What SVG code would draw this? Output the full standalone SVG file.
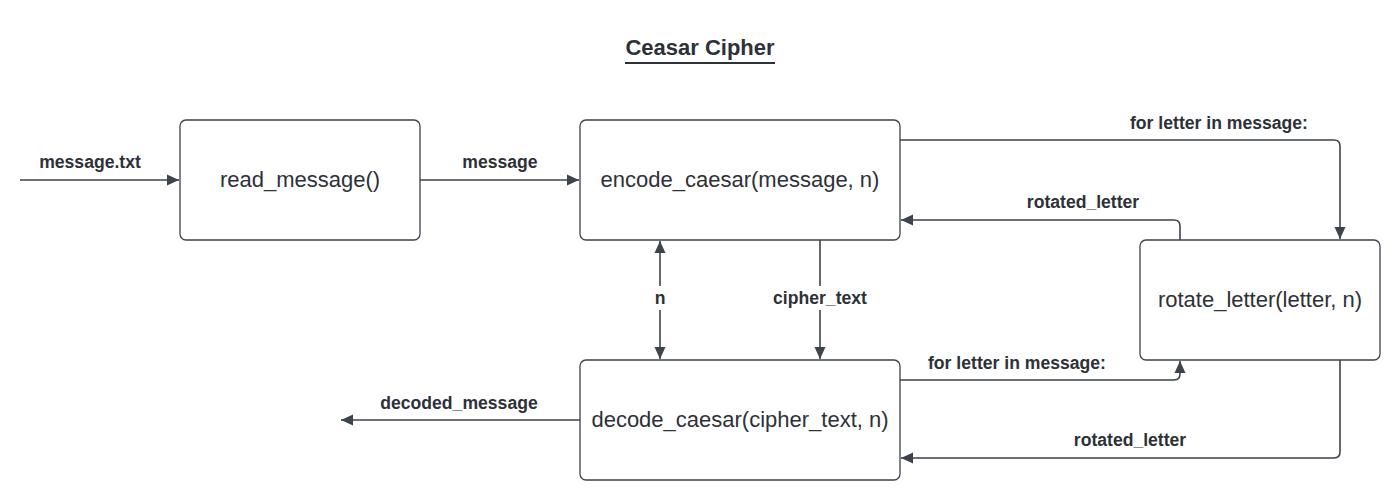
<svg xmlns="http://www.w3.org/2000/svg" width="1400" height="500" viewBox="0 0 1400 500">
<defs>
<style>
.box{fill:#ffffff;stroke:#3d434c;stroke-width:1.3}
.nt{font-family:"Liberation Sans",Arial,sans-serif;font-size:22px;fill:#2d3138;text-anchor:middle}
.lb{font-family:"Liberation Sans",Arial,sans-serif;font-size:17.6px;font-weight:bold;fill:#2d3138;text-anchor:middle}
.ln{fill:none;stroke:#3d434c;stroke-width:1.6}
</style>
<marker id="ah" viewBox="0 0 12 12" refX="12" refY="6" markerWidth="12" markerHeight="12" markerUnits="userSpaceOnUse" orient="auto-start-reverse">
<path d="M0,0.5 L12,6 L0,11.5 Z" fill="#3d434c"/>
</marker>
</defs>
<rect width="1400" height="500" fill="#ffffff"/>
<g id="title">
<text x="700" y="55" font-family="'Liberation Sans',Arial,sans-serif" font-size="22" font-weight="bold" fill="#2d3138" text-anchor="middle">Ceasar Cipher</text>
<line x1="625" y1="63" x2="775" y2="63" stroke="#2d3138" stroke-width="2"/>
</g>
<g id="connectors">
<line class="ln" x1="20" y1="180" x2="179" y2="180" marker-end="url(#ah)"/>
<text class="lb" x="90" y="168">message.txt</text>
<line class="ln" x1="420" y1="180" x2="579" y2="180" marker-end="url(#ah)"/>
<text class="lb" x="500" y="168">message</text>
<path class="ln" d="M900,140 H1334 Q1340,140 1340,146 V239" marker-end="url(#ah)"/>
<text class="lb" x="1219" y="129">for letter in message:</text>
<path class="ln" d="M1180,240 V226 Q1180,220 1174,220 H901" marker-end="url(#ah)"/>
<text class="lb" x="1083" y="208">rotated_letter</text>
<line class="ln" x1="660" y1="241" x2="660" y2="359" marker-start="url(#ah)" marker-end="url(#ah)"/>
<rect x="648" y="286" width="24" height="24" fill="#ffffff"/>
<text class="lb" x="660" y="304">n</text>
<line class="ln" x1="820" y1="240" x2="820" y2="359" marker-end="url(#ah)"/>
<rect x="766" y="286" width="108" height="24" fill="#ffffff"/>
<text class="lb" x="820" y="304">cipher_text</text>
<path class="ln" d="M900,380 H1174 Q1180,380 1180,374 V361" marker-end="url(#ah)"/>
<text class="lb" x="1017" y="369">for letter in message:</text>
<path class="ln" d="M1340,360 V452 Q1340,458 1334,458 H901" marker-end="url(#ah)"/>
<text class="lb" x="1130" y="446">rotated_letter</text>
<line class="ln" x1="580" y1="420" x2="341" y2="420" marker-end="url(#ah)"/>
<text class="lb" x="459" y="409">decoded_message</text>
</g>
<g id="read_message">
<rect class="box" x="180" y="120" width="240" height="120" rx="6"/>
<text class="nt" x="300" y="187">read_message()</text>
</g>
<g id="encode_caesar">
<rect class="box" x="580" y="120" width="320" height="120" rx="6"/>
<text class="nt" x="740" y="187">encode_caesar(message, n)</text>
</g>
<g id="rotate_letter">
<rect class="box" x="1140" y="240" width="240" height="120" rx="6"/>
<text class="nt" x="1260" y="307">rotate_letter(letter, n)</text>
</g>
<g id="decode_caesar">
<rect class="box" x="580" y="360" width="320" height="120" rx="6"/>
<text class="nt" x="740" y="427">decode_caesar(cipher_text, n)</text>
</g>
</svg>
